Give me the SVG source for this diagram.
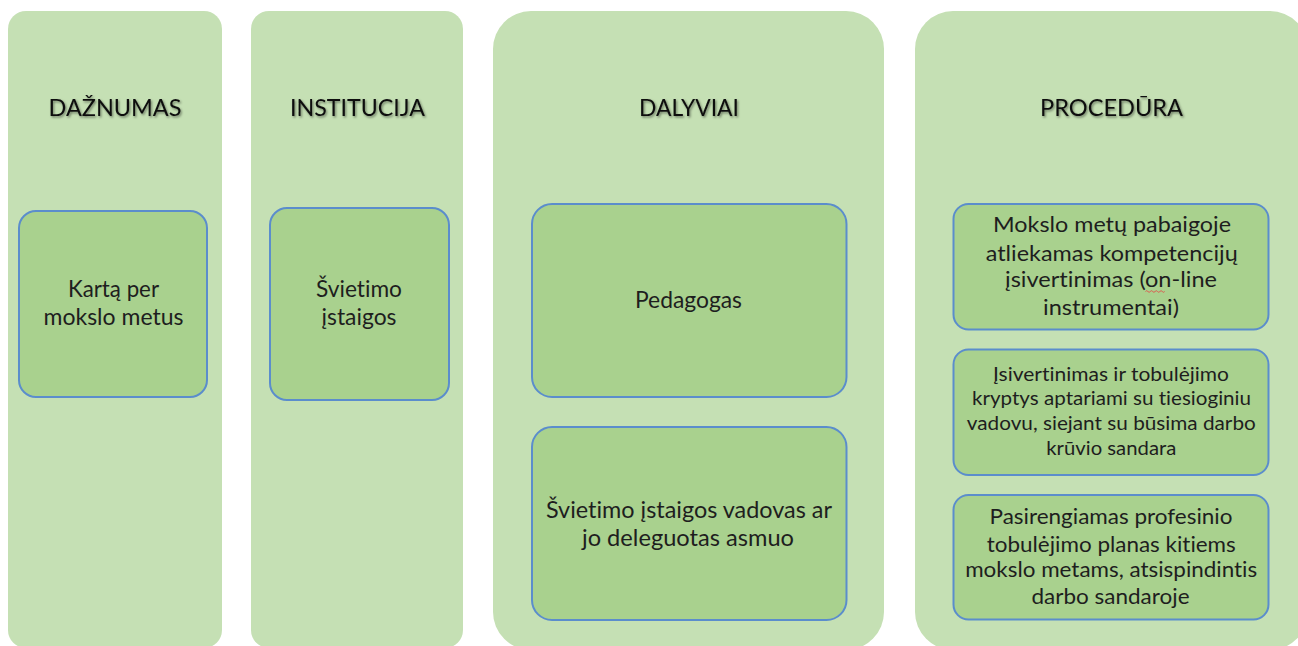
<svg xmlns="http://www.w3.org/2000/svg" width="1298" height="646" viewBox="0 0 1298 646">
<defs>
<filter id="shadow" x="-10%" y="-30%" width="120%" height="160%">
<feDropShadow dx="1.2" dy="1.5" stdDeviation="1" flood-color="#000" flood-opacity="0.45"/>
</filter>
</defs>
<style>
.col{fill:#c5e0b4;}
.box{fill:#a9d18e;stroke:#5b8dcc;stroke-width:2;}
.hdr{font-family:Lato,"Open Sans","Liberation Sans",sans-serif;font-size:24px;fill:#111;text-anchor:middle;filter:url(#shadow);font-variant-ligatures:none;}
.t{font-family:Lato,"Open Sans","Liberation Sans",sans-serif;fill:#1e1e1e;text-anchor:middle;font-variant-ligatures:none;}
.t23{font-size:23px;}
.t21{font-size:21.5px;}
.t19{font-size:19.5px;}
</style>
<rect width="1298" height="646" fill="#ffffff"/>

<g id="col-daznumas">
<rect class="col" x="8" y="11" width="214" height="637" rx="18"/>
<text class="hdr" x="115" y="116" textLength="133" lengthAdjust="spacingAndGlyphs">DAŽNUMAS</text>
<g id="box-kartq">
<rect class="box" x="19" y="211" width="188" height="186" rx="17"/>
<text class="t t23" x="113.5" y="297" textLength="91" lengthAdjust="spacingAndGlyphs">Kartą per</text>
<text class="t t23" x="113.5" y="325" textLength="140" lengthAdjust="spacingAndGlyphs">mokslo metus</text>
</g>
</g>

<g id="col-institucija">
<rect class="col" x="251" y="11" width="212" height="637" rx="18"/>
<text class="hdr" x="357.5" y="116" textLength="135" lengthAdjust="spacingAndGlyphs">INSTITUCIJA</text>
<g id="box-svietimo">
<rect class="box" x="270" y="208" width="179" height="192" rx="17"/>
<text class="t t23" x="359" y="297" textLength="86" lengthAdjust="spacingAndGlyphs">Švietimo</text>
<text class="t t23" x="359" y="325" textLength="75" lengthAdjust="spacingAndGlyphs">įstaigos</text>
</g>
</g>

<g id="col-dalyviai">
<rect class="col" x="493" y="11" width="391" height="639" rx="38"/>
<text class="hdr" x="689" y="116" textLength="100" lengthAdjust="spacingAndGlyphs">DALYVIAI</text>
<g id="box-pedagogas">
<rect class="box" x="532" y="204" width="314.5" height="193" rx="20"/>
<text class="t t23" x="688.5" y="308" textLength="107" lengthAdjust="spacingAndGlyphs">Pedagogas</text>
</g>
<g id="box-vadovas">
<rect class="box" x="532" y="427" width="314.5" height="193" rx="20"/>
<text class="t t23" x="689" y="518" textLength="286" lengthAdjust="spacingAndGlyphs">Švietimo įstaigos vadovas ar</text>
<text class="t t23" x="688" y="546" textLength="212" lengthAdjust="spacingAndGlyphs">jo deleguotas asmuo</text>
</g>
</g>

<g id="col-procedura">
<rect class="col" x="915" y="11" width="393" height="639" rx="38"/>
<text class="hdr" x="1111.5" y="116" textLength="143" lengthAdjust="spacingAndGlyphs">PROCEDŪRA</text>
<g id="box-proc1">
<rect class="box" x="953.5" y="204" width="315" height="125.5" rx="15"/>
<text class="t t21" x="1112" y="232" textLength="238" lengthAdjust="spacingAndGlyphs">Mokslo metų pabaigoje</text>
<text class="t t21" x="1111.7" y="260.5" textLength="252" lengthAdjust="spacingAndGlyphs">atliekamas kompetencijų</text>
<text class="t t21" x="1111" y="287" textLength="212" lengthAdjust="spacingAndGlyphs">įsivertinimas (on-line</text>
<text class="t t21" x="1111" y="315" textLength="136" lengthAdjust="spacingAndGlyphs">instrumentai)</text>
<path d="M1145.5 291.5 q1.2 -1.6 2.4 0 t2.4 0 t2.4 0 t2.4 0 t2.4 0 t2.4 0 t2.4 0 t2.4 0" fill="none" stroke="#e0504a" stroke-width="0.9"/>
</g>
<g id="box-proc2">
<rect class="box" x="953.5" y="349.5" width="315" height="125.5" rx="15"/>
<text class="t t19" x="1111" y="381" textLength="236" lengthAdjust="spacingAndGlyphs">Įsivertinimas ir tobulėjimo</text>
<text class="t t19" x="1111.5" y="405" textLength="279" lengthAdjust="spacingAndGlyphs">kryptys aptariami su tiesioginiu</text>
<text class="t t19" x="1111.3" y="429.5" textLength="289" lengthAdjust="spacingAndGlyphs">vadovu, siejant su būsima darbo</text>
<text class="t t19" x="1111.3" y="455" textLength="130" lengthAdjust="spacingAndGlyphs">krūvio sandara</text>
</g>
<g id="box-proc3">
<rect class="box" x="953.5" y="495" width="315" height="124.5" rx="15"/>
<text class="t t21" x="1111" y="524" textLength="243" lengthAdjust="spacingAndGlyphs">Pasirengiamas profesinio</text>
<text class="t t21" x="1111.3" y="551.5" textLength="249" lengthAdjust="spacingAndGlyphs">tobulėjimo planas kitiems</text>
<text class="t t21" x="1111.2" y="577" textLength="292" lengthAdjust="spacingAndGlyphs">mokslo metams, atsispindintis</text>
<text class="t t21" x="1110.5" y="603.5" textLength="158" lengthAdjust="spacingAndGlyphs">darbo sandaroje</text>
</g>
</g>
</svg>
